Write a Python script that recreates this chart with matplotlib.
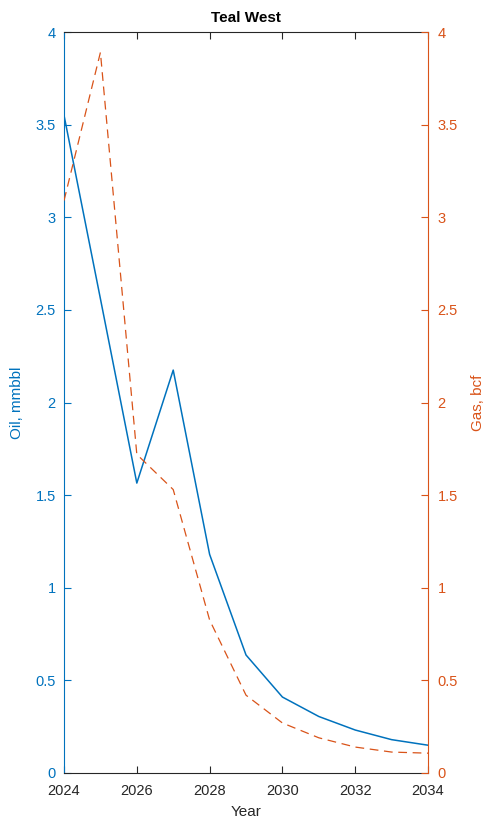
import numpy as np
import matplotlib
matplotlib.use("Agg")
import matplotlib.pyplot as plt

plt.rcParams['font.family'] = ['Liberation Sans', 'DejaVu Sans']

# data
years = [2024, 2025, 2026, 2027, 2028, 2029, 2030, 2031, 2032, 2033, 2034]
oil = [3.55, 2.56, 1.565, 2.175, 1.18, 0.637, 0.41, 0.305, 0.232, 0.18, 0.15]
gas = [3.09, 3.89, 1.72, 1.53, 0.826, 0.42, 0.27, 0.19, 0.14, 0.113, 0.107]
xticks = [2024, 2026, 2028, 2030, 2032, 2034]
yticks = [0, 0.5, 1, 1.5, 2, 2.5, 3, 3.5, 4]

blue = '#0072BD'
orange = '#D95319'
dark = '#262626'

fig = plt.figure(figsize=(4.85, 8.27), dpi=100)
ax = fig.add_axes([0.132, 0.0653, 0.7505, 0.896])
ax2 = ax.twinx()

ax.plot(years, oil, color=blue, lw=1.1)
ax2.plot(years, gas, color=orange, lw=0.9, dashes=(7, 4.5))

for a in (ax, ax2):
    a.set_xlim(2024, 2034)
    a.set_ylim(0, 4)
    a.set_yticks(yticks)
    a.set_yticklabels(['0', '0.5', '1', '1.5', '2', '2.5', '3', '3.5', '4'])

ax.set_xticks(xticks)
ax.tick_params(axis='x', direction='in', top=True, colors=dark, labelsize=10.5, length=5, width=0.8, pad=8)
ax.tick_params(axis='y', direction='in', colors=blue, labelsize=10.5, length=5, width=0.8, pad=6)
ax2.tick_params(axis='y', direction='in', colors=orange, labelsize=10.5, length=5, width=0.8, pad=7)

ax.spines['left'].set_color(blue)
ax.spines['bottom'].set_color(dark)
ax.spines['top'].set_color(dark)
ax.spines['right'].set_visible(False)
ax2.spines['right'].set_color(orange)
ax2.spines['left'].set_visible(False)
ax2.spines['top'].set_visible(False)
ax2.spines['bottom'].set_visible(False)

ax.set_xlabel('Year', fontsize=11, color=dark, labelpad=5)
ax.set_ylabel('Oil, mmbbl', fontsize=11, color=blue, labelpad=8)
ax2.set_ylabel('Gas, bcf', fontsize=11, color=orange, labelpad=9)
ax.set_title('Teal West', fontsize=11, fontweight='bold', pad=7)

fig.savefig('out.png', dpi=100)
